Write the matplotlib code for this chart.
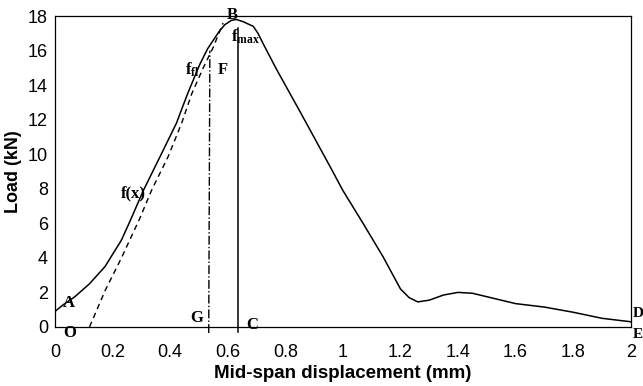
import matplotlib
matplotlib.use("Agg")
import matplotlib.pyplot as plt

# load-displacement curve
disp = [0.0, 0.03, 0.069, 0.12, 0.174, 0.2, 0.23, 0.26, 0.307, 0.365,
        0.422, 0.44, 0.463, 0.503, 0.53, 0.55, 0.57, 0.59, 0.613, 0.63,
        0.654, 0.689, 0.705, 0.723, 0.77, 0.85, 0.955, 1.0, 1.07, 1.14,
        1.2, 1.23, 1.26, 1.3, 1.35, 1.4, 1.45, 1.5, 1.6, 1.7, 1.8, 1.9, 2.0]
load = [0.9, 1.3, 1.75, 2.5, 3.5, 4.2, 5.0, 6.1, 7.9, 9.86,
        11.8, 12.6, 13.6, 15.2, 16.1, 16.6, 17.1, 17.5, 17.75, 17.8,
        17.67, 17.4, 17.0, 16.4, 14.9, 12.5, 9.3, 7.9, 6.0, 4.05,
        2.2, 1.7, 1.45, 1.55, 1.85, 2.0, 1.95, 1.75, 1.35, 1.15, 0.85, 0.5, 0.3]

# tangent (dashed) line
tan_x = [0.12, 0.174, 0.231, 0.295, 0.336, 0.393, 0.44, 0.475, 0.515, 0.55, 0.584]
tan_y = [0.0, 2.1, 4.0, 6.3, 7.93, 9.86, 11.8, 13.5, 15.0, 16.2, 17.6]

# vertical lines
ffl_x = [0.534, 0.538]
ffl_y = [-0.35, 16.0]
fmax_x = [0.634, 0.634]
fmax_y = [-0.3, 17.3]

# point labels
lab_text = ["B", r"$\mathbf{f_{max}}$", r"$\mathbf{f_{fl}}$", "F", "f(x)", "A", "O", "G", "C", "D", "E"]
lab_x = [0.597, 0.612, 0.45, 0.565, 0.23, 0.028, 0.03, 0.47, 0.665, 2.006, 2.006]
lab_y = [18.05, 16.8, 14.9, 14.9, 7.75, 1.4, -0.35, 0.5, 0.1, 0.8, -0.45]

plt.rcParams["mathtext.fontset"] = "custom"
plt.rcParams["mathtext.rm"] = "Liberation Serif"
plt.rcParams["mathtext.bf"] = "Liberation Serif:bold"

fig = plt.figure(figsize=(6.43, 3.86), dpi=100)
ax = fig.add_axes([0.0855, 0.153, 0.8955, 0.8055])

ax.plot(disp, load, color="black", lw=1.1)
ax.plot(tan_x, tan_y, color="black", lw=1.0, ls=(0, (4, 3)))
ax.plot(ffl_x, ffl_y, color="black", lw=1.0, ls="-.", clip_on=False)
ax.plot(fmax_x, fmax_y, color="black", lw=1.1, clip_on=False)

for t, x, y in zip(lab_text, lab_x, lab_y):
    fs = 11 if t in ("D", "E") else 12
    ax.text(x, y, t, fontsize=fs, fontweight="bold", family="Liberation Serif",
            ha="left", va="center", clip_on=False)

ax.set_xlim(0, 2)
ax.set_ylim(0, 18)
ax.set_xticks([0, 0.2, 0.4, 0.6, 0.8, 1, 1.2, 1.4, 1.6, 1.8, 2])
ax.set_xticklabels(["0", "0.2", "0.4", "0.6", "0.8", "1", "1.2", "1.4", "1.6", "1.8", "2"])
ax.set_yticks(range(0, 19, 2))
ax.tick_params(axis="x", length=0, labelsize=13, pad=12)
ax.tick_params(axis="y", length=0, labelsize=13, pad=5)
for lb in ax.get_xticklabels() + ax.get_yticklabels():
    lb.set_family("Liberation Sans")
for s in ax.spines.values():
    s.set_linewidth(0.9)

ax.set_xlabel("Mid-span displacement (mm)", fontsize=13.5, fontweight="bold",
              family="Liberation Sans", labelpad=3)
ax.set_ylabel("Load (kN)", fontsize=13, fontweight="bold",
              family="Liberation Sans", labelpad=4)

fig.savefig("out.png", dpi=100)
